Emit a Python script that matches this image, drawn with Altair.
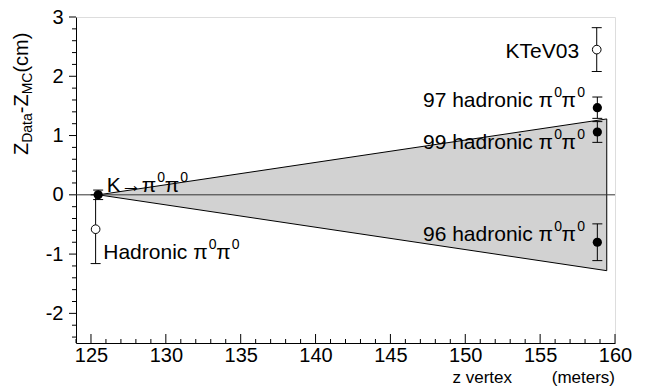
import altair as alt
import pandas as pd

# ---- data ----
pt_name = ["K→π0π0", "Hadronic π0π0", "KTeV03", "97 hadronic π0π0", "99 hadronic π0π0", "96 hadronic π0π0"]
pt_x = [125.48, 125.31, 158.78, 158.82, 158.82, 158.82]
pt_y = [0.0, -0.58, 2.45, 1.47, 1.06, -0.80]
pt_err = [0.08, 0.58, 0.37, 0.18, 0.175, 0.31]
pt_open = [False, True, True, False, False, False]

wedge_x = [125.5, 159.45]
wedge_hi = [0.0, 1.28]
wedge_lo = [0.0, -1.28]

pi_base = ["K→π", "Hadronic π", "97 hadronic π", "99 hadronic π", "96 hadronic π"]
pi_x_right = [131.49, 134.93, 158.0, 158.0, 158.0]
pi_y_base = [0.05, -1.09, 1.48, 0.78, -0.785]

plain_text = ["KTeV03"]
plain_x_right = [157.6]
plain_y_base = [2.30]

x_major = [125, 130, 135, 140, 145, 150, 155, 160]
x_minor = [v for v in range(124, 160) if v % 5 != 0]
y_major = [-2, -1, 0, 1, 2, 3]
y_minor = [-2.4, -2.2, -1.8, -1.6, -1.4, -1.2, -0.8, -0.6, -0.4, -0.2,
           0.2, 0.4, 0.6, 0.8, 1.2, 1.4, 1.6, 1.8, 2.2, 2.4, 2.6, 2.8]

W, H = 539, 326
FONT = "Liberation Sans"

xs = alt.Scale(domain=[124, 160], nice=False, zero=False)
ys = alt.Scale(domain=[-2.5, 3], nice=False, zero=False)

pts = pd.DataFrame({"name": pt_name, "x": pt_x, "y": pt_y, "err": pt_err, "open": pt_open})
pts["lo"] = pts["y"] - pts["err"]
pts["hi"] = pts["y"] + pts["err"]

wedge = pd.DataFrame({"x": wedge_x, "hi": wedge_hi, "lo": wedge_lo})
pilab = pd.DataFrame({"base": pi_base, "x": pi_x_right, "y": pi_y_base})
plab = pd.DataFrame({"t": plain_text, "x": plain_x_right, "y": plain_y_base})

xaxis = alt.Axis(values=x_major, labelFontSize=20, labelFont=FONT, labelColor="black",
                 ticks=False, tickSize=0, grid=False, domainColor="black", labelPadding=2,
                 title=None, labelFlush=False, labelExpr="'' + datum.value")
yaxis = alt.Axis(values=y_major, labelFontSize=20, labelFont=FONT, labelColor="black",
                 ticks=False, tickSize=0, grid=False, domainColor="black", labelPadding=13,
                 title=None, labelExpr="'' + datum.value")

area = alt.Chart(wedge).mark_area(fill="#d2d2d2", stroke="black", strokeWidth=1, opacity=1).encode(
    x=alt.X("x:Q", scale=xs, axis=xaxis),
    y=alt.Y("hi:Q", scale=ys, axis=yaxis),
    y2="lo:Q",
)

zero = alt.Chart(pd.DataFrame({"z": [0]})).mark_rule(color="#333333", strokeWidth=1).encode(
    y=alt.Y("z:Q", scale=ys)
)

err = alt.Chart(pts).mark_rule(color="black", strokeWidth=1).encode(
    x=alt.X("x:Q", scale=xs), y=alt.Y("lo:Q", scale=ys), y2="hi:Q"
)
cap_lo = alt.Chart(pts).mark_tick(orient="horizontal", size=10, thickness=1, color="black", opacity=1).encode(
    x=alt.X("x:Q", scale=xs), y=alt.Y("lo:Q", scale=ys)
)
cap_hi = alt.Chart(pts).mark_tick(orient="horizontal", size=10, thickness=1, color="black", opacity=1).encode(
    x=alt.X("x:Q", scale=xs), y=alt.Y("hi:Q", scale=ys)
)
filled = alt.Chart(pts).transform_filter("!datum.open").mark_point(
    shape="circle", filled=True, size=85, color="black", opacity=1).encode(
    x=alt.X("x:Q", scale=xs), y=alt.Y("y:Q", scale=ys)
)
hollow = alt.Chart(pts).transform_filter("datum.open").mark_point(
    shape="circle", filled=True, size=75, fill="white", stroke="black", strokeWidth=1, opacity=1).encode(
    x=alt.X("x:Q", scale=xs), y=alt.Y("y:Q", scale=ys)
)

# manual ticks: x inside (upwards), y outside (leftwards)
xt_major = alt.Chart(pd.DataFrame({"v": x_major})).mark_rule(color="black", strokeWidth=1).encode(
    x=alt.X("v:Q", scale=xs), y=alt.value(H), y2=alt.value(H - 9))
xt_minor = alt.Chart(pd.DataFrame({"v": x_minor})).mark_rule(color="black", strokeWidth=1).encode(
    x=alt.X("v:Q", scale=xs), y=alt.value(H), y2=alt.value(H - 4))
yt_major = alt.Chart(pd.DataFrame({"v": y_major})).mark_rule(color="black", strokeWidth=1).encode(
    y=alt.Y("v:Q", scale=ys), x=alt.value(0), x2=alt.value(-7))
yt_minor = alt.Chart(pd.DataFrame({"v": y_minor})).mark_rule(color="black", strokeWidth=1).encode(
    y=alt.Y("v:Q", scale=ys), x=alt.value(0), x2=alt.value(-4))

# labels with pi^0 pi^0 built from pieces (right aligned)
BF, SF = 21, 14
PIW, ZW = 14, 9
def piece(text_enc, dx, dy, fs):
    return alt.Chart(pilab).mark_text(align="right", baseline="alphabetic", font=FONT, fontSize=fs,
                                      dx=dx, dy=dy, color="black").encode(
        x=alt.X("x:Q", scale=xs), y=alt.Y("y:Q", scale=ys), text=text_enc)

lab4 = piece(alt.value("0"), 0, -10, SF)
lab3 = piece(alt.value("π"), -ZW, 0, BF)
lab2 = piece(alt.value("0"), -ZW - PIW, -10, SF)
lab1 = piece(alt.Text("base:N"), -2 * ZW - PIW, 0, BF)

plabels = alt.Chart(plab).mark_text(align="right", baseline="alphabetic", font=FONT, fontSize=BF,
                                    color="black").encode(
    x=alt.X("x:Q", scale=xs), y=alt.Y("y:Q", scale=ys), text="t:N")

# y-axis title with subscripts, rotated
one = pd.DataFrame({"a": [0]})
def ytitle(txt, ypos, fs, xb):
    return alt.Chart(one).mark_text(text=txt, angle=270, align="left", baseline="alphabetic",
                                    font=FONT, fontSize=fs, color="black").encode(
        x=alt.value(xb), y=alt.value(ypos))

MF, TF = 20, 14
y0 = 138
segs = [("Z", MF), ("Data", TF), ("-Z", MF), ("MC", TF), (" (cm)", MF)]
widths = {"Z": 0.611, "Data": 2.112, "-Z": 0.944, "MC": 1.555, " (cm)": 2.277}
tlayers = []
cur = y0
for s, fs in segs:
    xb = -48 if fs == MF else -44
    tlayers.append(ytitle(s, cur, fs, xb))
    cur -= widths[s] * fs

# x-axis title
xt1 = alt.Chart(one).mark_text(text="z vertex", align="right", baseline="alphabetic", font=FONT,
                               fontSize=17, color="black").encode(x=alt.value(436), y=alt.value(366))
xt2 = alt.Chart(one).mark_text(text="(meters)", align="right", baseline="alphabetic", font=FONT,
                               fontSize=17, color="black").encode(x=alt.value(539), y=alt.value(366))

chart = alt.layer(
    area, zero, err, cap_lo, cap_hi, filled, hollow,
    xt_major, xt_minor, yt_major, yt_minor,
    lab1, lab2, lab3, lab4, plabels, *tlayers, xt1, xt2
).properties(
    width=W, height=H,
    padding={"left": 76, "top": 17, "right": 32, "bottom": 47},
    autosize="none",
).configure_view(stroke="black", strokeWidth=1).configure(font=FONT)

chart.save("out.html", embed_options={"renderer": "svg", "actions": False})
